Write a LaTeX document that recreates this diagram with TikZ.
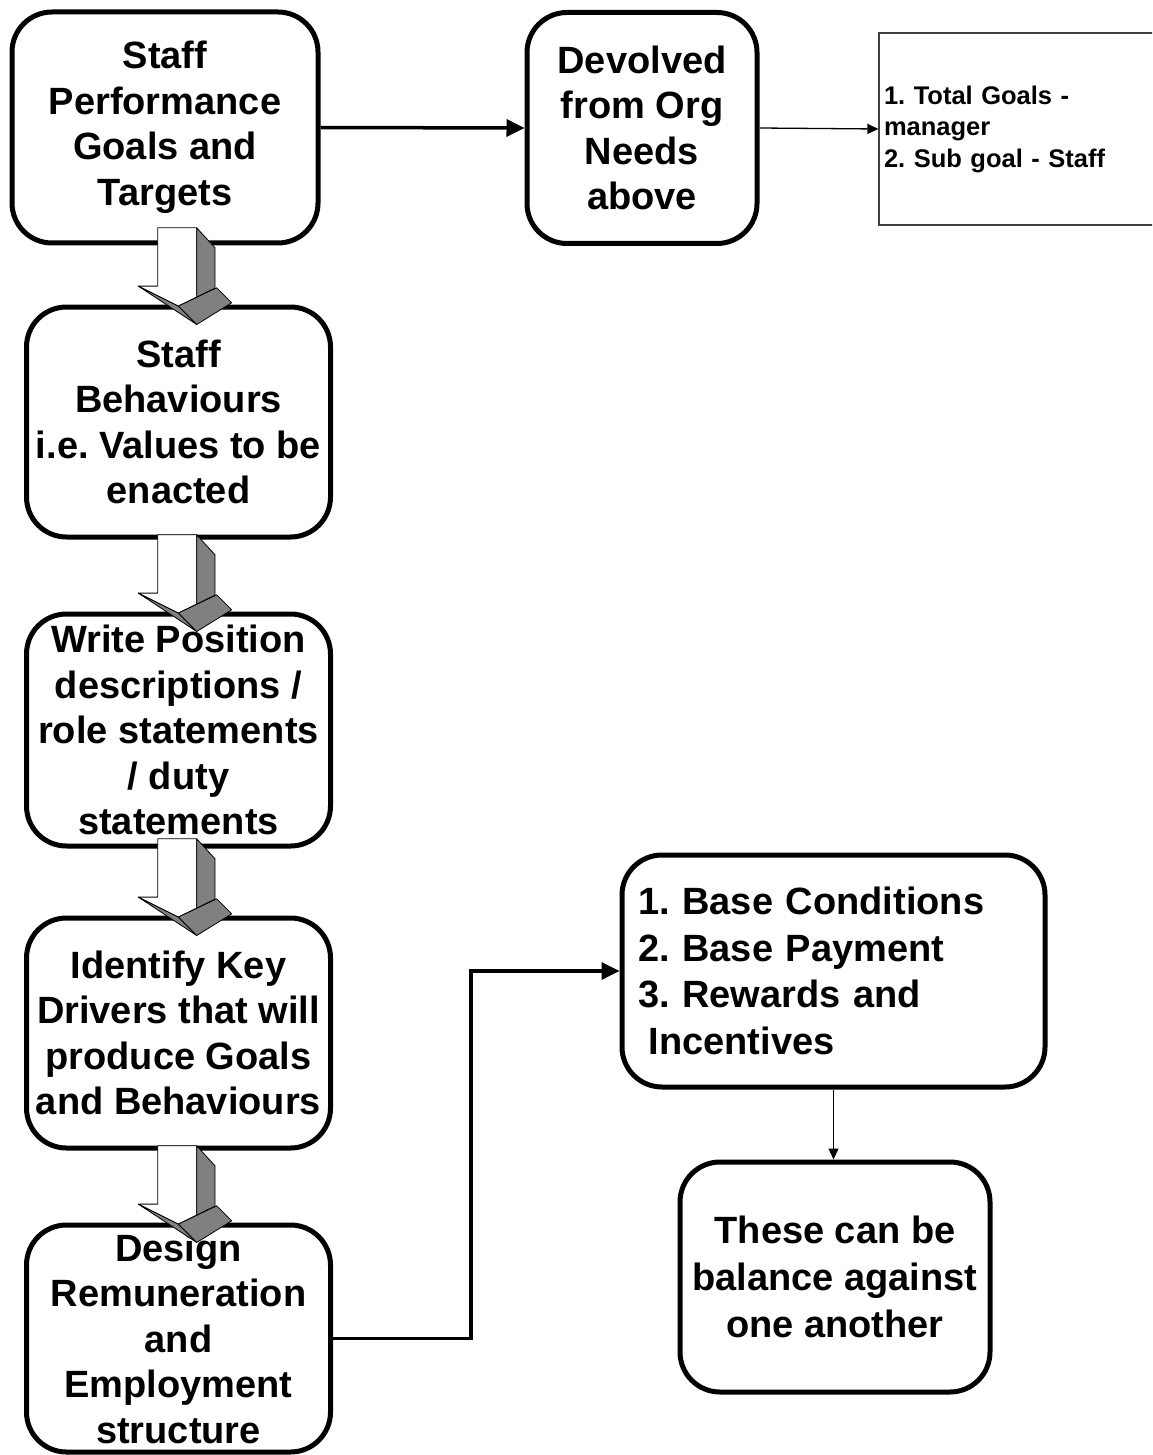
\documentclass[tikz,border=0pt]{standalone}
\usepackage{fontspec}
\setmainfont{Liberation Sans}
\usetikzlibrary{arrows.meta}
\frenchspacing

\tikzset{
  x=1pt, y=-1pt,
  stage/.style={draw=black, fill=white, line width=5pt, rounded corners=40pt,
    align=center, inner sep=0pt, font=\bfseries\fontsize{38}{45.5}\selectfont},
  note/.style={draw=black!75, fill=white, line width=1.2pt, inner sep=0pt,
    align=left, font=\bfseries\fontsize{25.5}{31.5}\selectfont},
  flowthick/.style={line width=3.5pt, -{Triangle[length=18pt,width=17pt]}},
  flowthin/.style={line width=1.3pt, -{Triangle[length=11pt,width=10pt]}},
  facewhite/.style={fill=white, draw=black, line width=0.8pt, line join=round},
  facegray/.style={fill=black!50, draw=black, line width=0.8pt, line join=round},
  % folded 3D block arrow, origin at its tip
  pics/droparrow/.style={code={
    \filldraw[facewhite] (-39,-96.7) -- (0,-96.7) -- (0,-27.4) -- (-18.4,-18.4)
      -- (-58.4,-38.4) -- (-39,-38.4) -- cycle;
    \filldraw[facegray] (0,-96.7) -- (18.3,-76.7) -- (18.3,-36.4) -- (0,-27.4) -- cycle;
    \filldraw[facegray] (-58.4,-38.4) -- (-18.4,-18.4) -- (0,0) -- cycle;
    \filldraw[facegray] (-18.4,-18.4) -- (20,-36.7) -- (35,-21.7) -- (0,0) -- cycle;
  }},
}

\begin{document}
\begin{tikzpicture}
\useasboundingbox (0,0) rectangle (1152,1455);
\clip (0,0) rectangle (1152,1455);

% left column of steps
\node[stage, minimum width=306pt, minimum height=231pt] (b1) at (165,127.5)
  {Staff\\Performance\\Goals and\\Targets};
\node[stage, minimum width=304pt, minimum height=230pt] (b4) at (178.5,422)
  {Staff\\Behaviours\\i.e. Values to be\\enacted};
\node[stage, minimum width=304pt, minimum height=232pt] (b5) at (178.5,730)
  {Write Position\\descriptions /\\role statements\\/ duty\\statements};
\node[stage, minimum width=304pt, minimum height=230pt] (b6) at (178.5,1033)
  {Identify Key\\Drivers that will\\produce Goals\\and Behaviours};
\node[stage, minimum width=304pt, minimum height=227pt] (b10) at (178.5,1338.5)
  {Design\\Remuneration\\and\\Employment\\structure};

% top row
\node[stage, minimum width=230pt, minimum height=231pt] (b2) at (642,128)
  {Devolved\\from Org\\Needs\\above};
\node[note, minimum width=286pt, minimum height=192pt, text width=276pt] (b3) at (1022,129)
  {1. Total Goals -\\manager\\2. Sub goal - Staff};

% right-hand pair
\node[stage, minimum width=423pt, minimum height=232pt, text width=391pt, align=left,
  font=\bfseries\fontsize{38}{46.5}\selectfont] (b8) at (833.5,971)
  {1. Base Conditions\\2. Base Payment\\3. Rewards and\\\hspace*{0.278em}Incentives};
\node[stage, minimum width=310pt, minimum height=230pt,
  font=\bfseries\fontsize{38}{47}\selectfont] (b9) at (835,1277)
  {These can be\\balance against\\one another};

% connectors
\draw[flowthick] (b1.east) -- (b2.west);
\draw[flowthin] (b2.east) -- (b3.west);
\draw[flowthick] (b10.east) -- ++(138,0) |- (b8.west);
\draw[flowthin] (b8.south) -- (b8.south |- b9.north);

% block arrows between the steps
\pic at ([shift={(18.2,20)}]b4.north) {droparrow};
\pic at ([shift={(18.2,20)}]b5.north) {droparrow};
\pic at ([shift={(18.2,20)}]b6.north) {droparrow};
\pic at ([shift={(18.2,20)}]b10.north) {droparrow};
\end{tikzpicture}
\end{document}
